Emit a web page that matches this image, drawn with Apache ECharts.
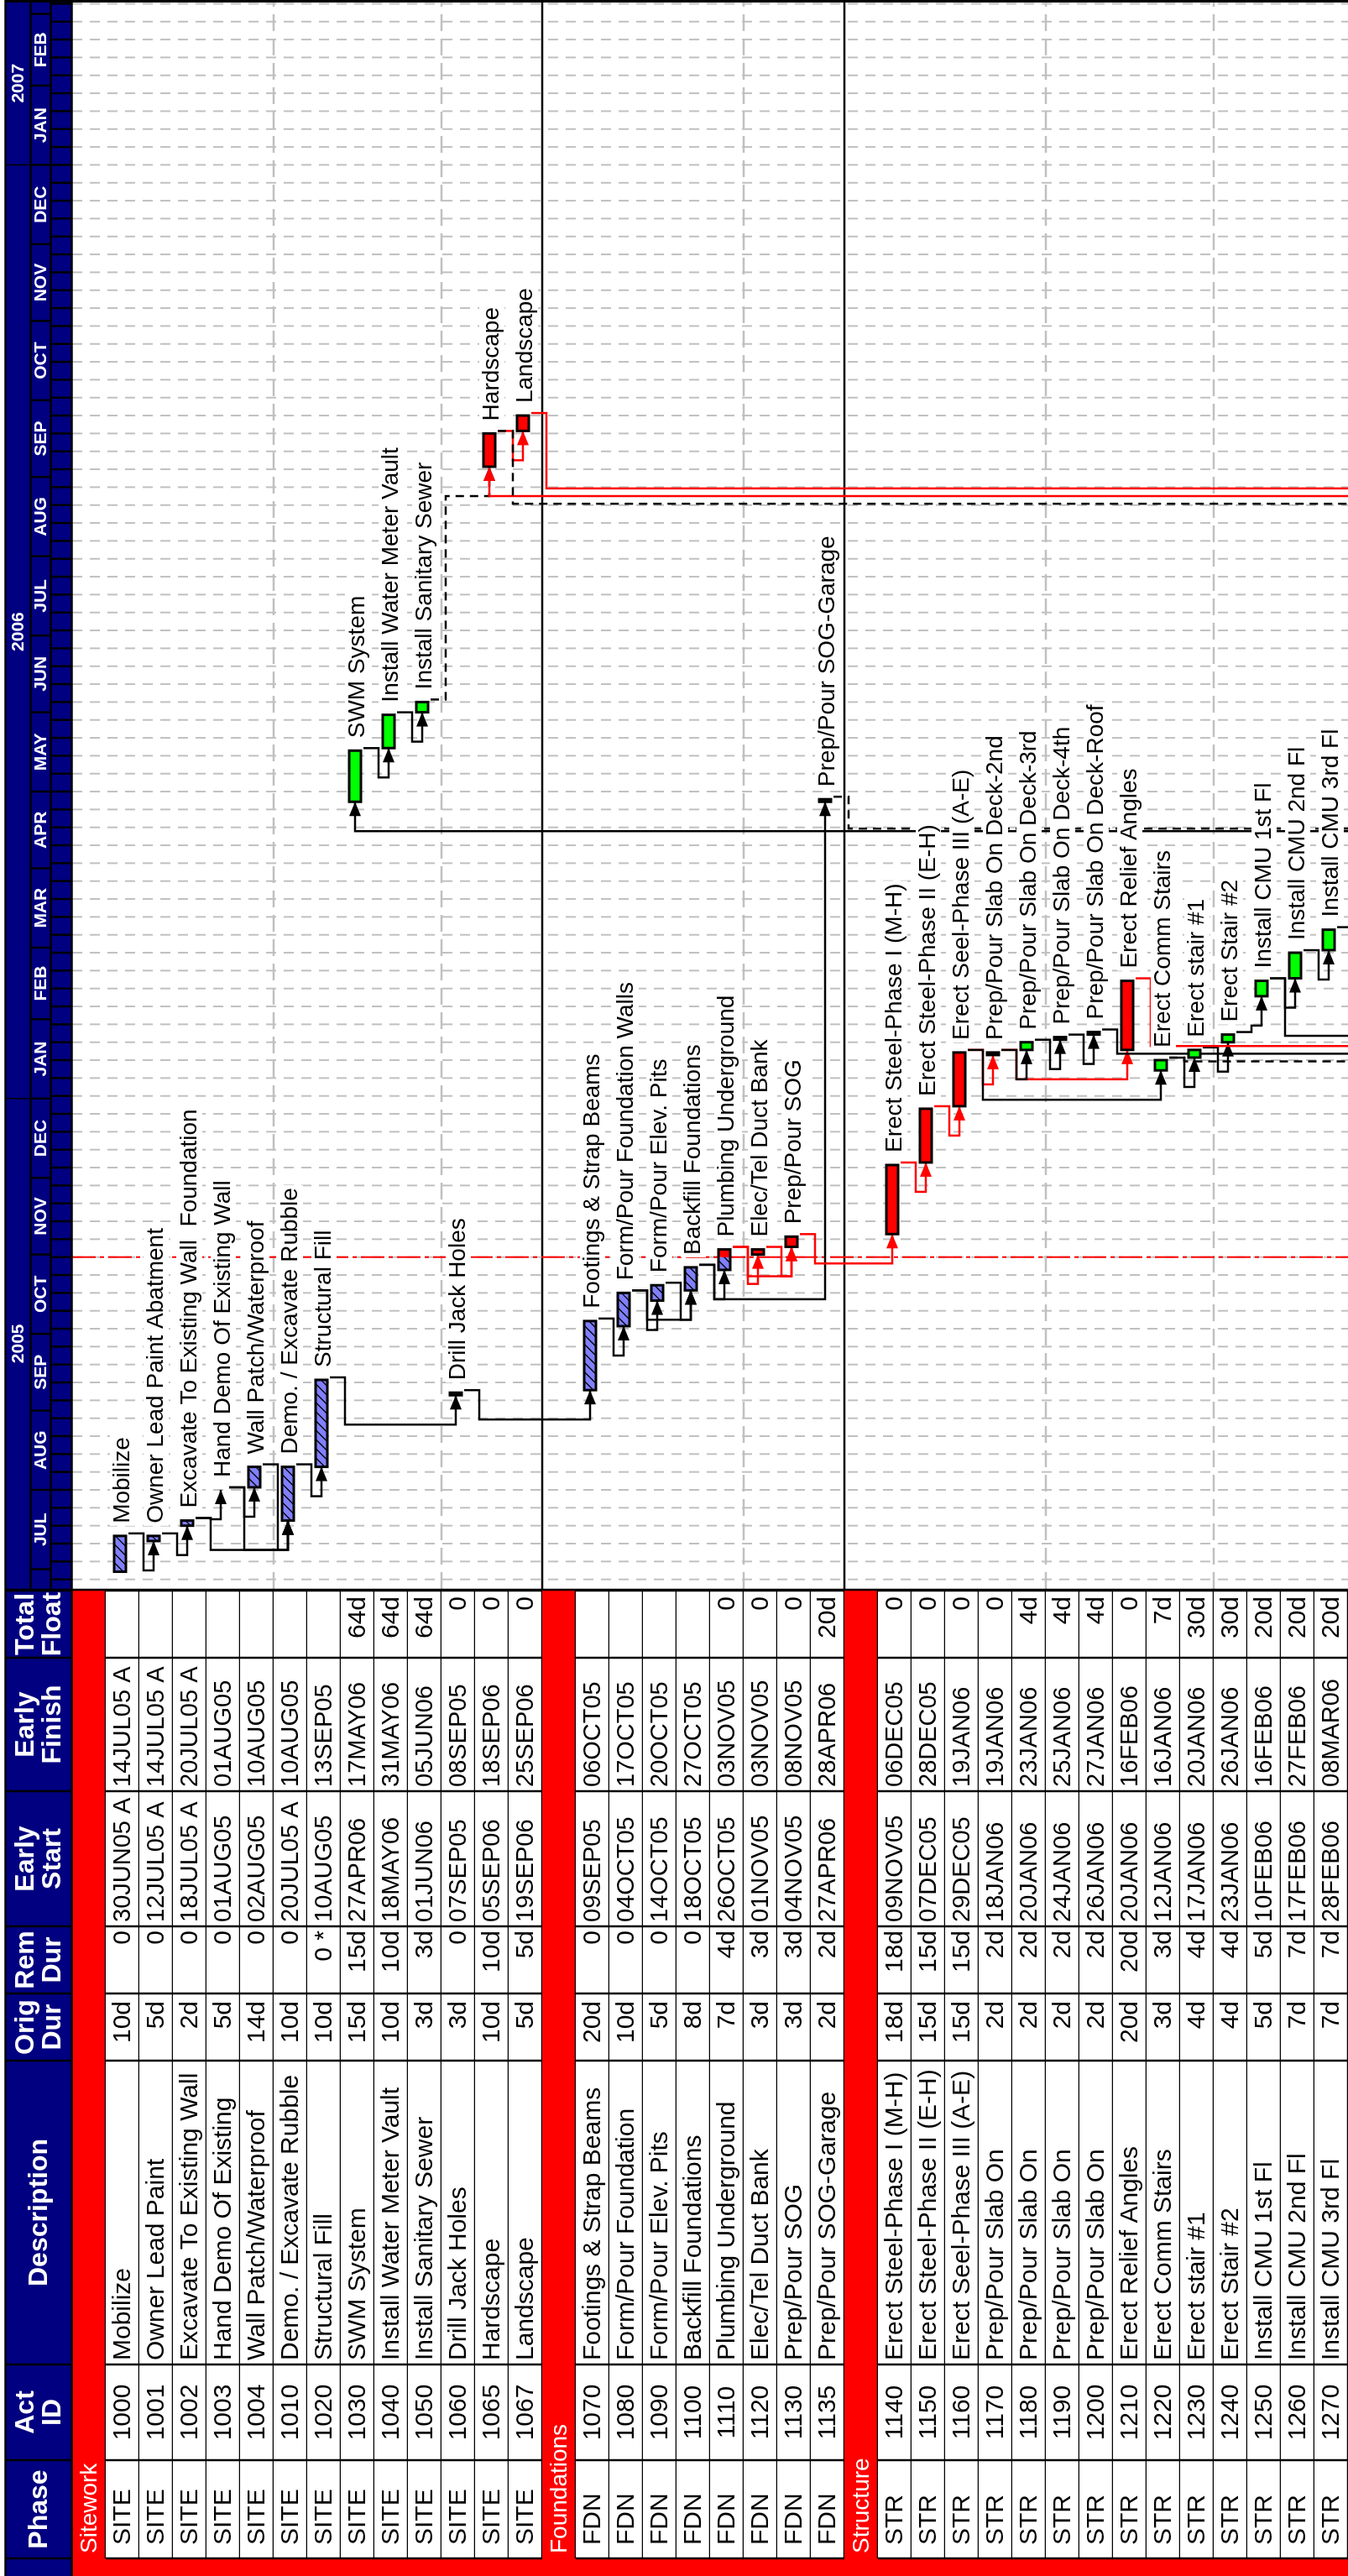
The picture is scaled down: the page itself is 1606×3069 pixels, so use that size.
<!DOCTYPE html>
<html>
<head>
<meta charset="utf-8">
<title>Project Schedule</title>
<script src="https://cdn.jsdelivr.net/npm/echarts@6/dist/echarts.min.js"></script>
<style>
  html, body { margin:0; padding:0; background:#ffffff; }
  body { width:1606px; height:3069px; overflow:hidden; position:relative; }
  #chart { position:absolute; left:0; top:0; width:3069px; height:1606px;
           transform-origin:0 0; transform:translate(0px, 3069px) rotate(-90deg); }
</style>
</head>
<body>
<div id="chart"></div>
<script>
// ===================== DATA =====================
const phase = ['SITE','SITE','SITE','SITE','SITE','SITE','SITE','SITE','SITE','SITE','SITE','SITE','SITE',
  'FDN','FDN','FDN','FDN','FDN','FDN','FDN','FDN',
  'STR','STR','STR','STR','STR','STR','STR','STR','STR','STR','STR','STR','STR','STR'];
const actId = [1000,1001,1002,1003,1004,1010,1020,1030,1040,1050,1060,1065,1067,
  1070,1080,1090,1100,1110,1120,1130,1135,
  1140,1150,1160,1170,1180,1190,1200,1210,1220,1230,1240,1250,1260,1270];
const description = ['Mobilize','Owner Lead Paint','Excavate To Existing Wall','Hand Demo Of Existing','Wall Patch/Waterproof',
  'Demo. / Excavate Rubble','Structural Fill','SWM System','Install Water Meter Vault','Install Sanitary Sewer',
  'Drill Jack Holes','Hardscape','Landscape',
  'Footings & Strap Beams','Form/Pour Foundation','Form/Pour Elev. Pits','Backfill Foundations','Plumbing Underground',
  'Elec/Tel Duct Bank','Prep/Pour SOG','Prep/Pour SOG-Garage',
  'Erect Steel-Phase I (M-H)','Erect Steel-Phase II (E-H)','Erect Seel-Phase III (A-E)','Prep/Pour Slab On','Prep/Pour Slab On',
  'Prep/Pour Slab On','Prep/Pour Slab On','Erect Relief Angles','Erect Comm Stairs','Erect stair #1','Erect Stair #2',
  'Install CMU 1st Fl','Install CMU 2nd Fl','Install CMU 3rd Fl'];
const barLabel = ['Mobilize','Owner Lead Paint Abatment','Excavate To Existing Wall  Foundation','Hand Demo Of Existing Wall',
  'Wall Patch/Waterproof','Demo. / Excavate Rubble','Structural Fill','SWM System','Install Water Meter Vault',
  'Install Sanitary Sewer','Drill Jack Holes','Hardscape','Landscape',
  'Footings & Strap Beams','Form/Pour Foundation Walls','Form/Pour Elev. Pits','Backfill Foundations','Plumbing Underground',
  'Elec/Tel Duct Bank','Prep/Pour SOG','Prep/Pour SOG-Garage',
  'Erect Steel-Phase I (M-H)','Erect Steel-Phase II (E-H)','Erect Seel-Phase III (A-E)','Prep/Pour Slab On Deck-2nd',
  'Prep/Pour Slab On Deck-3rd','Prep/Pour Slab On Deck-4th','Prep/Pour Slab On Deck-Roof','Erect Relief Angles',
  'Erect Comm Stairs','Erect stair #1','Erect Stair #2','Install CMU 1st Fl','Install CMU 2nd Fl','Install CMU 3rd Fl'];
const origDur = ['10d','5d','2d','5d','14d','10d','10d','15d','10d','3d','3d','10d','5d',
  '20d','10d','5d','8d','7d','3d','3d','2d',
  '18d','15d','15d','2d','2d','2d','2d','20d','3d','4d','4d','5d','7d','7d'];
const remDur = ['0','0','0','0','0','0','0 *','15d','10d','3d','0','10d','5d',
  '0','0','0','0','4d','3d','3d','2d',
  '18d','15d','15d','2d','2d','2d','2d','20d','3d','4d','4d','5d','7d','7d'];
const earlyStart = ['30JUN05 A','12JUL05 A','18JUL05 A','01AUG05','02AUG05','20JUL05 A','10AUG05','27APR06','18MAY06','01JUN06',
  '07SEP05','05SEP06','19SEP06',
  '09SEP05','04OCT05','14OCT05','18OCT05','26OCT05','01NOV05','04NOV05','27APR06',
  '09NOV05','07DEC05','29DEC05','18JAN06','20JAN06','24JAN06','26JAN06','20JAN06','12JAN06','17JAN06','23JAN06',
  '10FEB06','17FEB06','28FEB06'];
const earlyFinish = ['14JUL05 A','14JUL05 A','20JUL05 A','01AUG05','10AUG05','10AUG05','13SEP05','17MAY06','31MAY06','05JUN06',
  '08SEP05','18SEP06','25SEP06',
  '06OCT05','17OCT05','20OCT05','27OCT05','03NOV05','03NOV05','08NOV05','28APR06',
  '06DEC05','28DEC05','19JAN06','19JAN06','23JAN06','25JAN06','27JAN06','16FEB06','16JAN06','20JAN06','26JAN06',
  '16FEB06','27FEB06','08MAR06'];
const totalFloat = ['','','','','','','','64d','64d','64d','0','0','0',
  '','','','','0','0','0','20d',
  '0','0','0','0','4d','4d','4d','0','7d','30d','30d','20d','20d','20d'];
const groupName = { SITE:'Sitework', FDN:'Foundations', STR:'Structure' };
const tableHeaders = ['', 'Phase', 'Act\nID', 'Description', 'Orig\nDur', 'Rem\nDur', 'Early\nStart', 'Early\nFinish', 'Total\nFloat'];
const monthNames = ['JAN','FEB','MAR','APR','MAY','JUN','JUL','AUG','SEP','OCT','NOV','DEC'];
const yearLabels = ['2005','2006','2007'];
const dataDate = '31OCT05';

// logic links (pred -> succ); 'OFF' = activity on another page
const linkPred = [1000,1001,1002,1002,1003,1003,1004,1010,1020,1060,1070,1080,1080,1090,1100,1100,1110,1110,1120,1130,
  1140,1150,1160,1160,1170,1170,1180,1190,1220,1230,1240,1250,1260,'OFF',1030,1040,1050,'OFF',1065,1065,1067,1135,
  1200,1210,1220,1250,1270];
const linkSucc = [1001,1002,1003,1010,1004,1010,1010,1020,1060,1070,1080,1090,1100,1100,1110,1135,1120,1130,1130,1140,
  1150,1160,1170,1220,1210,1180,1190,1200,1230,1240,1250,1260,1270,1030,1040,1050,1065,1065,1067,'OFF','OFF','OFF',
  'OFF','OFF','OFF','OFF','OFF'];
const linkKind = ['drive','drive','drive','drive','drive','drive','drive','drive','drive','drive','drive','drive','drive','drive','drive','drive',
  'crit','crit','crit','crit','crit','crit','crit','drive','crit','drive','drive','drive','drive','drive','drive','drive','drive',
  'drive','drive','drive','free','crit','crit','free','crit','free','drive','crit','free','drive','drive'];
const linkOffStart = ['','','','','','','','','','','','','','','','','','','','','','','','','','','','','','','','','',
  '','','','','','','02SEP06','08SEP06','28APR06','30JAN06','02FEB06','27JAN06','06FEB06','20MAR06'];
const linkEarly = [15];   // links that drop right after the predecessor

// ===================== HELPERS =====================
const MON = {JAN:0,FEB:1,MAR:2,APR:3,MAY:4,JUN:5,JUL:6,AUG:7,SEP:8,OCT:9,NOV:10,DEC:11};
function day(s){
  s = s.replace(/\s*A$/, '').trim();
  return Date.UTC(2000 + parseInt(s.slice(5,7),10), MON[s.slice(2,5)], parseInt(s.slice(0,2),10)) / 864e5;
}
function utcDay(y, m, d){ return Date.UTC(y, m, d) / 864e5; }

const rows = [], rowOfAct = [];
(function(){ let prev = null;
  phase.forEach((p, i) => {
    if (p !== prev) { rows.push({band: groupName[p]}); prev = p; }
    rowOfAct[i] = rows.length; rows.push({act: i});
  });
})();
const idxOfId = {}; actId.forEach((id, i) => idxOfId[id] = i);

// layout
const NAVY = '#000080', RED = '#ff0000', GREEN = '#00ff00', HATCH = '#8080ff', GRID_GRAY = '#c0c0c0';
const FONT = '"Liberation Sans", Arial, Helvetica, sans-serif';
const F_TABLE = '30px ' + FONT, F_DATE = '29px ' + FONT, F_LABEL = '28px ' + FONT, F_HEAD = 'bold 32px ' + FONT, F_TIME = 'bold 21px ' + FONT;
const TABLE_W = 1174;
const colEdges = [0, 21, 138, 252, 614, 694, 774, 935, 1094, 1174];
const HDR_TOP = 7, HDR_BOT = 85;
const AXIS_REF = day('01AUG05');
const X_MIN = AXIS_REF - 38.72, X_MAX = AXIS_REF + 581.8;
const FIRST_MONDAY = day('27JUN05');
const DROP = 35;

function Ln(x1, y1, x2, y2, stroke, w, dash){
  return {type:'line', silent:true, shape:{x1, y1, x2, y2}, style:{stroke, lineWidth:w || 2, lineDash: dash || null, fill:null}};
}
function Rc(x, y, w, h, fill, stroke, lw){
  return {type:'rect', silent:true, shape:{x, y, width:w, height:h}, style:{fill: fill || 'none', stroke: stroke || null, lineWidth: lw || 0}};
}
function Tx(text, x, y, extra){
  return {type:'text', silent:true, x, y, style:Object.assign({text, fill:'#000', font:F_TABLE, align:'left', verticalAlign:'middle'}, extra || {})};
}
function hatch(x0, x1, y0, y1, step){
  const h = y1 - y0, out = [];
  for (let t = x0 - h; t < x1; t += step) {
    let ax = t + h, ay = y0, bx = t, by = y1;
    if (ax > x1) { ay = y0 + (ax - x1); ax = x1; }
    if (bx < x0) { by = y1 - (x0 - bx); bx = x0; }
    if (ay >= y1 || by <= y0 || ax <= bx) continue;
    out.push(Ln(ax, ay, bx, by, '#000', 1.3));
  }
  return out;
}
function barStatus(i){
  const rem = remDur[i].trim();
  if (/^0/.test(rem)) return 'done';
  if (rem !== origDur[i]) return 'progress';
  return totalFloat[i] === '0' ? 'crit' : 'float';
}

// ===================== RENDERERS (gantt grid) =====================
const mondays = [];
for (let d = FIRST_MONDAY; d <= X_MAX; d += 7) mondays.push(d);

function renderWeekLine(params, api){
  const cs = params.coordSys;
  const x = api.coord([mondays[params.dataIndex], 0])[0];
  if (x < cs.x + 1 || x > cs.x + cs.width - 1) return null;
  return Ln(x, cs.y, x, cs.y + cs.height, GRID_GRAY, 2, [12, 9]);
}

function renderFrame(params, api){
  const cs = params.coordSys, L = cs.x, Rr = cs.x + cs.width;
  const h = api.size([0, 1])[1];
  const ch = [];
  let count = 0;
  rows.forEach((row, r) => {
    const top = api.coord([X_MIN, r])[1] - h / 2;
    if (row.band) { count = 0; if (r > 0) ch.push(Ln(L, top, Rr, top, '#000', 2.5)); return; }
    if (count > 0 && count % 5 === 0) ch.push(Ln(L, top, Rr, top, GRID_GRAY, 2.5, [20, 9]));
    count++;
  });
  const xd = api.coord([day(dataDate), 0])[0];
  ch.push(Ln(xd, cs.y, xd, cs.y + cs.height, RED, 2, [28, 5, 5, 5]));
  return {type:'group', children: ch};
}

function renderLink(params, api){
  const k = params.dataIndex, cs = params.coordSys;
  const bottom = cs.y + cs.height;
  const h = api.size([0, 1])[1];
  const p = linkPred[k], q = linkSucc[k], kind = linkKind[k];
  const color = kind === 'crit' ? RED : '#000';
  const dash = kind === 'free' ? [10, 7] : null;
  const pts = []; let arrow = null;
  if (p === 'OFF') {
    const j = idxOfId[q], r2 = rowOfAct[j];
    const c = api.coord([day(earlyStart[j]), r2]);
    const yb = c[1] - 3;
    pts.push([c[0] - DROP, bottom], [c[0] - DROP, yb], [c[0], yb]);
    arrow = [c[0], yb];
  } else {
    const i = idxOfId[p], r = rowOfAct[i];
    const c = api.coord([day(earlyFinish[i]), r]);
    const xf = c[0], yc = c[1];
    const yA = yc + h / 2 + 5, x1 = xf + 3;
    pts.push([x1, yc + 7], [x1, yA]);
    if (q === 'OFF') {
      const xB = api.coord([day(linkOffStart[k]), 0])[0] - DROP;
      pts.push([xB, yA], [xB, bottom]);
    } else {
      const j = idxOfId[q], r2 = rowOfAct[j];
      const c2 = api.coord([day(earlyStart[j]), r2]);
      const yb = c2[1] - 3;
      const xB = linkEarly.indexOf(k) >= 0 ? xf - DROP - 3 : c2[0] - DROP;
      pts.push([xB, yA], [xB, yb], [c2[0], yb]);
      arrow = [c2[0], yb];
    }
  }
  const ch = [{type:'polyline', silent:true, shape:{points: pts}, style:{stroke: color, lineWidth: 2.5, lineDash: dash, fill: null}}];
  if (arrow) {
    ch.push({type:'polygon', silent:true, shape:{points:[[arrow[0], arrow[1]], [arrow[0] - 17, arrow[1] - 7], [arrow[0] - 17, arrow[1] + 7]]},
      style:{fill: color, stroke: null}});
  }
  return {type:'group', children: ch};
}

function renderLabel(params, api){
  const i = params.dataIndex, r = rowOfAct[i];
  const xs = api.coord([day(earlyStart[i]), r])[0];
  const c = api.coord([day(earlyFinish[i]), r]);
  const x = Math.max(xs, c[0]) + 12;
  return Tx(barLabel[i], x, c[1], {font: F_LABEL, backgroundColor:'#ffffff', padding:[1, 3]});
}

function renderBar(params, api){
  const i = params.dataIndex, r = rowOfAct[i];
  const a = api.coord([day(earlyStart[i]), r]);
  const xf = api.coord([day(earlyFinish[i]), r])[0];
  const xs = a[0], yc = a[1];
  if (xf - xs < 0.5) return null;
  const y0 = yc - 10, bh = 14;
  const st = barStatus(i);
  const ch = [];
  if (st === 'done') {
    ch.push(Rc(xs, y0, xf - xs, bh, HATCH));
    ch.push(...hatch(xs, xf, y0, y0 + bh, 11));
  } else if (st === 'progress') {
    const xd = api.coord([day(dataDate), r])[0];
    ch.push(Rc(xs, y0, xd - xs, bh, HATCH));
    ch.push(...hatch(xs, xd, y0, y0 + bh, 11));
    ch.push(Rc(xd, y0, xf - xd, bh, totalFloat[i] === '0' ? RED : GREEN));
  } else {
    ch.push(Rc(xs, y0, xf - xs, bh, st === 'crit' ? RED : GREEN));
  }
  ch.push(Rc(xs, y0, xf - xs, bh, 'none', '#000', 3));
  return {type:'group', children: ch};
}

function renderTimeHeader(params, api){
  const cs = params.coordSys, L = cs.x, Rr = cs.x + cs.width;
  const X = d => Math.max(L, Math.min(Rr, api.coord([d, 0])[0]));
  const ch = [Rc(L, HDR_TOP, Rr - L, HDR_BOT - HDR_TOP, NAVY)];
  const wt = '#ffffff';
  yearLabels.forEach(yl => {
    const y = parseInt(yl, 10);
    const a = X(utcDay(y, 0, 1)), b = X(utcDay(y + 1, 0, 1));
    if (b - a < 1) return;
    if (a > L + 1) ch.push(Ln(a, HDR_TOP, a, 36, '#000', 1.5));
    ch.push(Tx(yl, (a + b) / 2, 22, {fill: wt, font: F_TIME, align:'center'}));
  });
  for (let y = 2005; y <= 2007; y++) for (let m = 0; m < 12; m++) {
    const a = X(utcDay(y, m, 1)), b = X(utcDay(y, m + 1, 1));
    if (b - a < 1) continue;
    if (a > L + 1) ch.push(Ln(a, 37, a, 60, '#000', 2.5));
    if (b - a > 50) ch.push(Tx(monthNames[m], (a + b) / 2, 49, {fill: wt, font: F_TIME, align:'center'}));
  }
  mondays.forEach(d => { const a = X(d); if (a > L + 1 && a < Rr - 1) ch.push(Ln(a, 61, a, HDR_BOT, '#000', 2.5)); });
  ch.push(Ln(L, 36.5, Rr, 36.5, '#000', 2.5));
  ch.push(Ln(L, 60.5, Rr, 60.5, '#000', 2.5));
  return {type:'group', children: ch};
}

// ===================== RENDERERS (table grid) =====================
function renderTableRow(params, api){
  const r = params.dataIndex, row = rows[r];
  const h = api.size([0, 1])[1];
  const yc = api.coord([0, r])[1], top = yc - h / 2, bot = yc + h / 2;
  const X = v => api.coord([v, r])[0];
  const ch = [];
  if (row.band) {
    ch.push(Rc(X(0), top, X(TABLE_W) - X(0), h, RED));
    ch.push(Tx(row.band, X(27), yc + 1, {fill:'#ffffff', font: '28px ' + FONT}));
    ch.push(Ln(X(colEdges[1]), bot, X(TABLE_W), bot, '#000', 2.5));
    return {type:'group', children: ch};
  }
  const i = row.act;
  ch.push(Rc(X(0), top, X(21) - X(0), h, RED));
  ch.push(Rc(X(21), top, X(TABLE_W) - X(21), h, '#ffffff'));
  for (let c = 1; c < colEdges.length; c++) ch.push(Ln(X(colEdges[c]), top, X(colEdges[c]), bot, '#000', 2.5));
  ch.push(Ln(X(21), bot, X(TABLE_W), bot, '#000', 2.5));
  const ty = yc + 1;
  ch.push(Tx(phase[i], X(21) + 16, ty));
  ch.push(Tx(String(actId[i]), (X(138) + X(252)) / 2, ty, {align:'center'}));
  ch.push(Tx(description[i], X(252) + 5, ty));
  ch.push(Tx(origDur[i], X(694) - 9, ty, {align:'right'}));
  ch.push(Tx(remDur[i], X(774) - 5, ty, {align:'right'}));
  ch.push(Tx(earlyStart[i], X(774) + 5, ty, {font: F_DATE}));
  ch.push(Tx(earlyFinish[i], X(935) + 5, ty, {font: F_DATE}));
  ch.push(Tx(totalFloat[i], X(TABLE_W) - 7, ty, {align:'right'}));
  return {type:'group', children: ch};
}

function renderTableHeader(params, api){
  const X = v => api.coord([v, 0])[0];
  const ch = [Rc(X(0), HDR_TOP, X(TABLE_W) - X(0), HDR_BOT - HDR_TOP, NAVY)];
  for (let c = 1; c < colEdges.length; c++) ch.push(Ln(X(colEdges[c]), HDR_TOP, X(colEdges[c]), HDR_BOT, '#000', 2.5));
  for (let c = 1; c < tableHeaders.length; c++) {
    ch.push(Tx(tableHeaders[c], (X(colEdges[c]) + X(colEdges[c + 1])) / 2, (HDR_TOP + HDR_BOT) / 2 + 1,
      {fill:'#ffffff', font: F_HEAD, align:'center', lineHeight: 32}));
  }
  return {type:'group', children: ch};
}

function renderBorders(params, api){
  const W = 3069;
  return {type:'group', children: [
    Ln(0, 6.5, W, 6.5, '#000', 2.5),
    Ln(0, 85.5, W, 85.5, '#000', 2.5),
    Ln(1175, 6, 1175, 1606, '#000', 2.5),
    Ln(3067.5, 6, 3067.5, 1606, '#000', 3)
  ]};
}

// ===================== CHART =====================
const rowKeys = rows.map((r, k) => String(k));
const chart = echarts.init(document.getElementById('chart'), null, {renderer:'canvas'});
const idxData = n => Array.from({length: n}, (_, k) => [k]);
chart.setOption({
  animation: false,
  backgroundColor: '#ffffff',
  grid: [
    {left: 1176, top: 86, width: 1891, height: 1520},
    {left: 0, top: 86, width: TABLE_W, height: 1520}
  ],
  xAxis: [
    {type:'value', gridIndex:0, min: X_MIN, max: X_MAX, show:false},
    {type:'value', gridIndex:1, min: 0, max: TABLE_W, show:false}
  ],
  yAxis: [
    {type:'category', gridIndex:0, data: rowKeys, inverse:true, show:false},
    {type:'category', gridIndex:1, data: rowKeys, inverse:true, show:false}
  ],
  series: [
    {type:'custom', name:'weeks', xAxisIndex:0, yAxisIndex:0, z:1, silent:true, data: idxData(mondays.length), renderItem: renderWeekLine},
    {type:'custom', name:'frame', xAxisIndex:0, yAxisIndex:0, z:2, silent:true, data: idxData(1), renderItem: renderFrame},
    {type:'custom', name:'links', xAxisIndex:0, yAxisIndex:0, z:3, silent:true, data: idxData(linkPred.length), renderItem: renderLink},
    {type:'custom', name:'labels', xAxisIndex:0, yAxisIndex:0, z:4, silent:true, data: idxData(actId.length), renderItem: renderLabel},
    {type:'custom', name:'bars', xAxisIndex:0, yAxisIndex:0, z:5, silent:true, data: idxData(actId.length), renderItem: renderBar},
    {type:'custom', name:'timeHeader', xAxisIndex:0, yAxisIndex:0, z:6, silent:true, data: idxData(1), renderItem: renderTimeHeader},
    {type:'custom', name:'table', xAxisIndex:1, yAxisIndex:1, z:2, silent:true, data: idxData(rows.length), renderItem: renderTableRow},
    {type:'custom', name:'tableHeader', xAxisIndex:1, yAxisIndex:1, z:6, silent:true, data: idxData(1), renderItem: renderTableHeader},
    {type:'custom', name:'borders', xAxisIndex:1, yAxisIndex:1, z:7, silent:true, data: idxData(1), renderItem: renderBorders}
  ]
});
</script>
</body>
</html>
